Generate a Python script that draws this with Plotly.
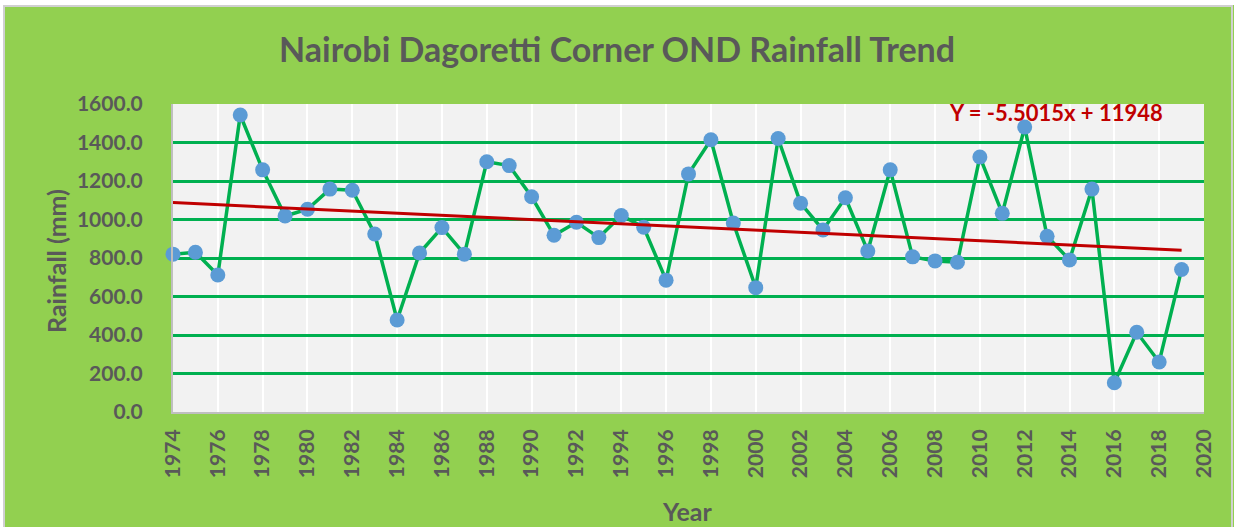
import plotly.graph_objects as go

years = list(range(1974, 2020))
rainfall = [820, 830, 712, 1543, 1258, 1018, 1053, 1158, 1152, 925, 478, 826, 958, 820, 1300,
            1280, 1118, 918, 986, 906, 1021, 960, 685, 1237, 1414, 982, 646, 1421, 1085, 946, 1113,
            836, 1258, 806, 785, 778, 1325, 1032, 1480, 913, 790, 1158, 152, 414, 260, 740]
trend_slope = -5.5015
trend_intercept = 11948
trend = [trend_slope * y + trend_intercept for y in years]

title_text = "Nairobi Dagoretti Corner OND Rainfall Trend"
equation_text = "Y = -5.5015x + 11948"
x_title = "Year"
y_title = "Rainfall (mm)"

W, H = 1234, 527
L, R, T, B = 173, 30, 104, 115
pw, ph = W - L - R, H - T - B


def px(x):
    return (x - L) / pw


def py(y):
    return (H - B - y) / ph


FONT = "Lato"
GRAY = "#595959"

fig = go.Figure()
fig.add_trace(go.Scatter(
    x=years, y=rainfall, mode="lines+markers",
    line=dict(color="#00B050", width=3.5),
    marker=dict(color="#5B9BD5", size=15),
    cliponaxis=False, showlegend=False, name="Rainfall"))
fig.add_trace(go.Scatter(
    x=years, y=trend, mode="lines",
    line=dict(color="#C00000", width=3),
    showlegend=False, name="Trend"))

fig.update_layout(
    width=W, height=H,
    margin=dict(l=L, r=R, t=T, b=B),
    paper_bgcolor="#92D050",
    plot_bgcolor="#F2F2F2",
    font=dict(family=FONT, color=GRAY),
    title=dict(text="<b>" + title_text + "</b>", x=0.5, xanchor="center",
               y=1 - 50 / H, yanchor="middle", yref="container",
               font=dict(family=FONT, size=34, color=GRAY)),
    xaxis=dict(range=[1974, 2020], dtick=2, tick0=1974, tickangle=-90,
               showgrid=True, gridcolor="#FFFFFF", gridwidth=2,
               showline=True, linecolor="#BFBFBF", linewidth=2,
               zeroline=False, ticks="", ticklabelstandoff=7,
               tickfont=dict(family=FONT, size=21, color=GRAY, weight="bold")),
    yaxis=dict(range=[0, 1600], dtick=200, tickformat=".1f",
               showgrid=True, gridcolor="#00B050", gridwidth=2.5,
               showline=True, linecolor="#BFBFBF", linewidth=2,
               zeroline=False, ticks="", ticklabelstandoff=24,
               tickfont=dict(family=FONT, size=21, color=GRAY, weight="bold")),
    annotations=[
        dict(text="<b>" + y_title + "</b>", x=px(56), y=py(261), xref="paper", yref="paper",
             xanchor="center", yanchor="middle",
             textangle=-90, showarrow=False, font=dict(family=FONT, size=25, color=GRAY)),
        dict(text="<b>" + x_title + "</b>", x=px(687), y=py(511), xref="paper", yref="paper",
             xanchor="center", yanchor="middle",
             showarrow=False, font=dict(family=FONT, size=25, color=GRAY)),
        dict(text="<b>" + equation_text + "</b>", x=px(1056), y=py(112), xref="paper", yref="paper",
             xanchor="center", yanchor="middle",
             showarrow=False, font=dict(family=FONT, size=22, color="#C00000")),
    ],
    shapes=[
        dict(type="rect", xref="paper", yref="paper", x0=px(-5), x1=px(W + 5), y0=py(5), y1=py(-5),
             fillcolor="#FFFFFF", line=dict(width=0), layer="above"),
        dict(type="rect", xref="paper", yref="paper", x0=px(-5), x1=px(3), y0=py(H + 5), y1=py(-5),
             fillcolor="#FFFFFF", line=dict(width=0), layer="above"),
        dict(type="rect", xref="paper", yref="paper", x0=px(4), x1=px(1232), y0=py(H + 10), y1=py(6),
             fillcolor="rgba(0,0,0,0)", line=dict(color="#D0D0D0", width=2), layer="above"),
    ],
)

fig.write_html("out.html", config={"displayModeBar": False},
               post_script="document.body.style.margin='0px';document.body.style.overflow='hidden';")
